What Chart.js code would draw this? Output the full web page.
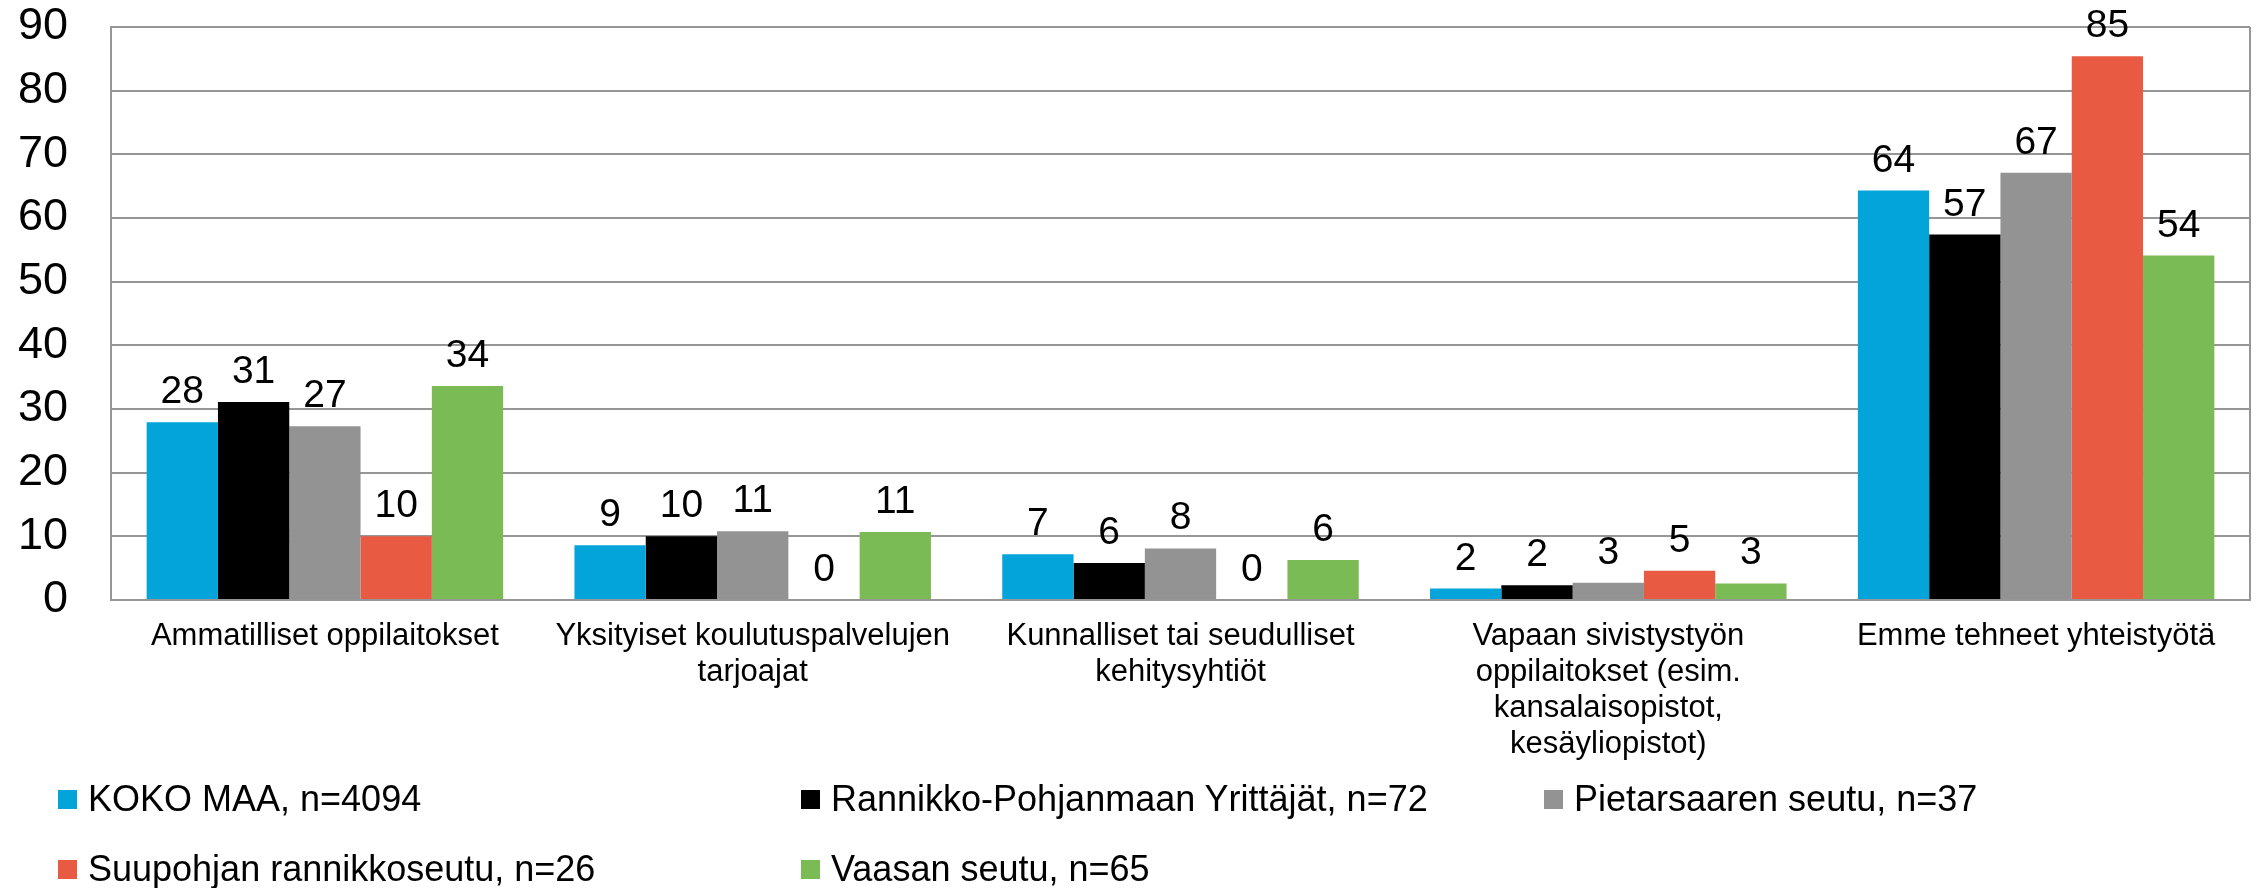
<!DOCTYPE html>
<html>
<head>
<meta charset="utf-8">
<script src="https://cdn.jsdelivr.net/npm/chart.js@4.4.1/dist/chart.umd.min.js"></script>
<style>
    html, body { margin: 0; padding: 0; background: #fff; }
    #wrap { position: relative; width: 2260px; height: 888px; }
    #legend { position: absolute; left: 0; top: 0; font-family: 'Liberation Sans', Arial, sans-serif; font-size: 36px; color: #000; }
    .item { position: absolute; display: flex; align-items: center; height: 40px; white-space: nowrap; }
    .box { width: 19px; height: 19px; margin-right: 11px; }
</style>
</head>
<body>
<div id="wrap">
    <canvas id="chart" width="2260" height="888"></canvas>
    <div id="legend"></div>
</div>
<script>
const categories = [
    'Ammatilliset oppilaitokset',
    ['Yksityiset koulutuspalvelujen', 'tarjoajat'],
    ['Kunnalliset tai seudulliset', 'kehitysyhtiöt'],
    ['Vapaan sivistystyön', 'oppilaitokset (esim.', 'kansalaisopistot,', 'kesäyliopistot)'],
    'Emme tehneet yhteistyötä'
];

const seriesNames = [
    'KOKO MAA, n=4094',
    'Rannikko-Pohjanmaan Yrittäjät, n=72',
    'Pietarsaaren seutu, n=37',
    'Suupohjan rannikkoseutu, n=26',
    'Vaasan seutu, n=65'
];
const seriesColors = ['#03a4da', '#000000', '#939393', '#e85a41', '#7bbb56'];

const kokoMaa     = [27.9,  8.6, 7.2, 1.8, 64.3];
const rannikko    = [31.1, 10.0, 5.8, 2.3, 57.4];
const pietarsaari = [27.3, 10.8, 8.1, 2.7, 67.1];
const suupohja    = [10.0,  0.0, 0.0, 4.6, 85.4];
const vaasa       = [33.6, 10.7, 6.3, 2.6, 54.1];

const yTicks = [0, 10, 20, 30, 40, 50, 60, 70, 80, 90];

const FONT = "'Liberation Sans', Arial, sans-serif";
const GRID = '#969696';

// value labels above each bar
const barLabels = {
    id: 'barLabels',
    afterDatasetsDraw(chart) {
        const ctx = chart.ctx;
        ctx.save();
        ctx.font = '39px ' + FONT;
        ctx.fillStyle = '#000';
        ctx.textAlign = 'center';
        ctx.textBaseline = 'alphabetic';
        chart.data.datasets.forEach((ds, i) => {
            chart.getDatasetMeta(i).data.forEach((bar, j) => {
                ctx.fillText(Math.round(ds.data[j]), bar.x, bar.y - 19);
            });
        });
        ctx.restore();
    }
};

// right edge of the plot box
const plotBorder = {
    id: 'plotBorder',
    beforeDatasetsDraw(chart) {
        const a = chart.chartArea;
        const ctx = chart.ctx;
        ctx.save();
        ctx.strokeStyle = GRID;
        ctx.lineWidth = 2;
        ctx.beginPath();
        ctx.moveTo(a.right, a.top);
        ctx.lineTo(a.right, a.bottom);
        ctx.stroke();
        ctx.restore();
    }
};

const seriesData = [kokoMaa, rannikko, pietarsaari, suupohja, vaasa];

new Chart(document.getElementById('chart').getContext('2d'), {
    type: 'bar',
    data: {
        labels: categories,
        datasets: seriesData.map((d, i) => ({
            label: seriesNames[i],
            data: d,
            backgroundColor: seriesColors[i],
            borderWidth: 0,
            categoryPercentage: 5 / 6,
            barPercentage: 1.0
        }))
    },
    options: {
        responsive: false,
        animation: false,
        layout: { padding: { top: 27, right: 10, left: 0, bottom: 0 } },
        plugins: {
            legend: { display: false },
            tooltip: { enabled: false }
        },
        scales: {
            y: {
                min: 0,
                max: 90,
                afterBuildTicks: (s) => { s.ticks = yTicks.map(v => ({ value: v })); },
                afterFit: (s) => { s.width = 111; s.paddingTop = 0; s.paddingBottom = 0; },
                grid: { color: GRID, lineWidth: 2, drawTicks: false },
                border: { color: GRID, width: 2 },
                ticks: { color: '#000', padding: 43, font: { family: FONT, size: 45 } }
            },
            x: {
                afterFit: (s) => { s.height = 288; s.paddingLeft = 0; s.paddingRight = 0; },
                grid: { display: false, drawTicks: false },
                border: { color: GRID, width: 2 },
                ticks: {
                    color: '#000',
                    padding: 18,
                    maxRotation: 0,
                    autoSkip: false,
                    font: { family: FONT, size: 31, lineHeight: 1.17 }
                }
            }
        }
    },
    plugins: [plotBorder, barLabels]
});

// legend laid out in a 3-column grid like the original
const legend = document.getElementById('legend');
seriesNames.forEach((name, i) => {
    const col = i % 3, row = Math.floor(i / 3);
    const el = document.createElement('div');
    el.className = 'item';
    el.style.left = (58 + col * 743) + 'px';
    el.style.top = (779 + row * 70) + 'px';
    el.innerHTML = '<span class="box" style="background:' + seriesColors[i] + '"></span><span>' + name + '</span>';
    legend.appendChild(el);
});
</script>
</body>
</html>
